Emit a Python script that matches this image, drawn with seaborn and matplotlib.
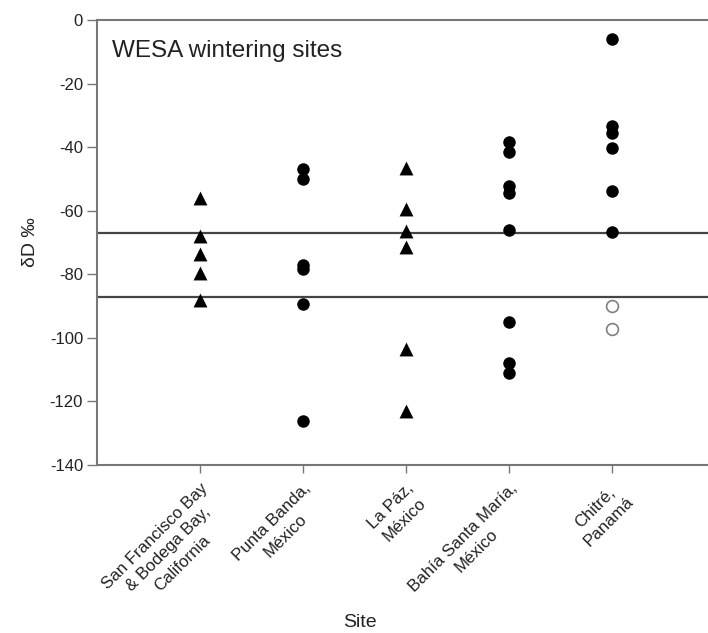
import pandas as pd
import matplotlib
matplotlib.use("Agg")
import matplotlib.pyplot as plt
import seaborn as sns

# -----------------------------
# Data
# -----------------------------
sites = ["San Francisco Bay\n& Bodega Bay,\nCalifornia", "Punta Banda,\nMéxico",
         "La Páz,\nMéxico", "Bahía Santa María,\nMéxico", "Chitré,\nPanamá"]

sf_vals = [-56, -68, -73.5, -79.5, -88]
punta_vals = [-47, -50, -77, -78.3, -89.5, -126]
lapaz_vals = [-46.5, -59.5, -66.5, -71.5, -103.5, -123]
bahia_vals = [-38.5, -41.5, -52.3, -54.5, -66, -95, -108, -111]
chitre_vals = [-6, -33.5, -35.5, -40.2, -53.7, -66.8]
chitre_open = [-90, -97.3]

ref_lines = [-67, -87]

rows = []
for v in sf_vals:
    rows.append((sites[0], v, "tri"))
for v in punta_vals:
    rows.append((sites[1], v, "dot"))
for v in lapaz_vals:
    rows.append((sites[2], v, "tri"))
for v in bahia_vals:
    rows.append((sites[3], v, "dot"))
for v in chitre_vals:
    rows.append((sites[4], v, "dot"))
for v in chitre_open:
    rows.append((sites[4], v, "open"))
df = pd.DataFrame(rows, columns=["Site", "dD", "kind"])

# -----------------------------
# Plot
# -----------------------------
sns.set_style("white")
plt.rcParams['font.family'] = ['Liberation Sans', 'DejaVu Sans']
plt.rcParams['axes.unicode_minus'] = False

fig = plt.figure(figsize=(7.08, 6.33), dpi=100)
ax = fig.add_axes([97 / 708, 168 / 633, 1 - 97 / 708, 445 / 633])

for y in ref_lines:
    ax.axhline(y, color="#444444", lw=1.6, zorder=1)

sns.stripplot(data=df[df.kind == "tri"], x="Site", y="dD", order=sites, jitter=False,
              marker="^", color="black", size=10, linewidth=0, ax=ax, zorder=3)
sns.stripplot(data=df[df.kind == "dot"], x="Site", y="dD", order=sites, jitter=False,
              marker="o", color="black", size=9, linewidth=0, ax=ax, zorder=3)
sns.stripplot(data=df[df.kind == "open"], x="Site", y="dD", order=sites, jitter=False,
              marker="o", color="white", edgecolor="#808080", size=8.5, linewidth=1.2,
              ax=ax, zorder=3)

ax.set_xlim(-1, 4.93)
ax.set_ylim(-140, 0)
ax.set_yticks(range(-140, 1, 20))

for side in ["left", "bottom", "top"]:
    ax.spines[side].set_color("#777777")
    ax.spines[side].set_linewidth(1.5)
ax.spines["right"].set_visible(False)

ax.tick_params(axis="both", direction="out", length=6, width=1, color="#777777",
               labelsize=12, labelcolor="#222222", bottom=True, left=True)
ax.tick_params(axis="y", length=7, pad=3)
ax.tick_params(axis="x", pad=5)
ax.set_xticks(range(len(sites)))
ax.set_xticklabels(sites, rotation=45, ha="right", va="top", rotation_mode="anchor",
                   multialignment="center", fontsize=12.2, linespacing=1.35)

ax.set_xlabel("Site", fontsize=14, color="#222222")
ax.xaxis.set_label_coords(0.43, -0.335)
ax.set_ylabel("δD ‰", fontsize=14, color="#222222")
ax.yaxis.set_label_coords(-0.095, 0.5)

ax.text(0.025, 0.93, "WESA wintering sites", transform=ax.transAxes,
        fontsize=17.5, color="#222222", va="center", ha="left")

fig.savefig("out.png", dpi=100)
